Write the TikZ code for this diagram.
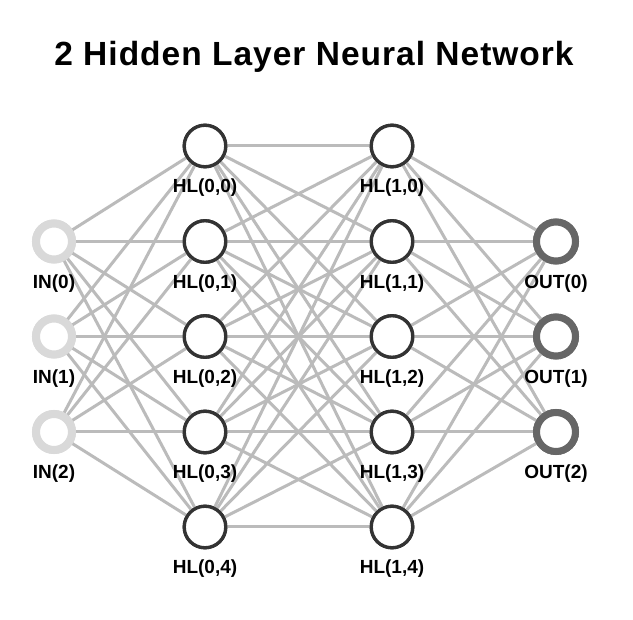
\documentclass[tikz,border=0pt]{standalone}
\usepackage{fontspec}
\setmainfont{Liberation Sans}
\definecolor{edgec}{HTML}{BBBBBB}
\definecolor{inc}{HTML}{D9D9D9}
\definecolor{hlc}{HTML}{333333}
\definecolor{outc}{HTML}{666666}
\begin{document}
\begin{tikzpicture}[x=1pt,y=-1pt,
  edge/.style={draw=edgec,line width=3pt},
  inn/.style={circle,draw=inc,line width=8pt,fill=white,minimum size=36pt,inner sep=0pt},
  hln/.style={circle,draw=hlc,line width=3.3pt,fill=white,minimum size=41.5pt,inner sep=0pt},
  outn/.style={circle,draw=outc,line width=7pt,fill=white,minimum size=39pt,inner sep=0pt},
  lab/.style={font=\bfseries\fontsize{19}{22}\selectfont,text=black,inner sep=0pt,anchor=base},
  ttl/.style={font=\bfseries\fontsize{33.5}{38}\selectfont\addfontfeatures{LetterSpace=3},text=black,inner sep=0pt,anchor=base}]
\fill[white] (0,0) rectangle (633,620);
\useasboundingbox (0,0) rectangle (633,620);
\node[ttl] (title) at (314,66) {2 Hidden Layer Neural Network};
% nodes
\foreach \i/\y in {0/241.5,1/336.5,2/432}
  \node[inn] (in\i) at (54,\y) {};
\foreach \i/\y in {0/146,1/241.5,2/336.5,3/432,4/527}{
  \node[hln] (ha\i) at (205,\y) {};
  \node[hln] (hb\i) at (392,\y) {};
}
\foreach \i/\y in {0/241.5,1/336.5,2/432}
  \node[outn] (out\i) at (556,\y) {};
% edges
\foreach \i in {0,1,2}
  \foreach \j in {0,...,4}
    \draw[edge] (in\i.center) -- (ha\j.center);
\foreach \i in {0,...,4}
  \foreach \j in {0,...,4}
    \draw[edge] (ha\i.center) -- (hb\j.center);
\foreach \i in {0,...,4}
  \foreach \j in {0,1,2}
    \draw[edge] (hb\i.center) -- (out\j.center);
% redraw nodes on top
\foreach \i/\y in {0/241.5,1/336.5,2/432}
  \node[inn] at (54,\y) {};
\foreach \i/\y in {0/146,1/241.5,2/336.5,3/432,4/527}{
  \node[hln] at (205,\y) {};
  \node[hln] at (392,\y) {};
}
\foreach \i/\y in {0/241.5,1/336.5,2/432}
  \node[outn] at (556,\y) {};
% labels
\foreach \i in {0,1,2}
  \node[lab] (inl\i) at ([yshift=-47pt]in\i.center) {IN(\i)};
\foreach \i in {0,...,4}{
  \node[lab] (hal\i) at ([yshift=-47pt]ha\i.center) {HL(0,\i)};
  \node[lab] (hbl\i) at ([yshift=-47pt]hb\i.center) {HL(1,\i)};
}
\foreach \i in {0,1,2}
  \node[lab] (outl\i) at ([yshift=-47pt]out\i.center) {OUT(\i)};
\end{tikzpicture}
\end{document}
